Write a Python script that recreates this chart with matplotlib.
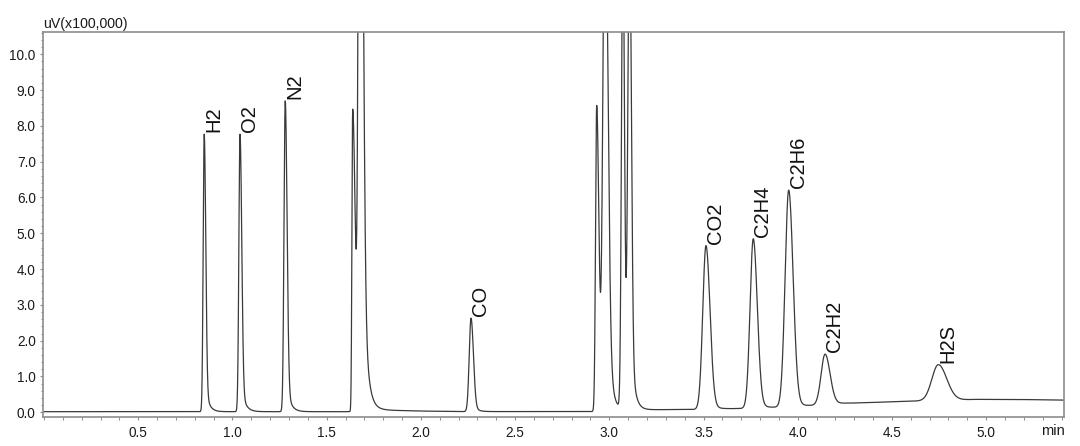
import numpy as np
import matplotlib
matplotlib.use("Agg")
import matplotlib.pyplot as plt
from matplotlib.ticker import MultipleLocator, FixedLocator, FormatStrFormatter

# ---- data (time in min, signal in uV x100,000) ----
# peak parameters: retention time, height above baseline, left/right widths, tail
peak_time   = [0.850, 1.040, 1.280, 1.638, 1.6765, 2.266, 2.933, 2.977, 3.072, 3.1075,
               3.513, 3.764, 3.952, 4.145, 4.746]
peak_height = [7.75, 7.75, 8.68, 8.45, 25.0, 2.61, 8.54, 15.0, 13.5, 13.5,
               4.57, 4.73, 6.05, 1.41, 1.00]
peak_sigL   = [0.0055, 0.006, 0.0065, 0.004, 0.008, 0.0095, 0.006, 0.011, 0.0072, 0.0094,
               0.017, 0.017, 0.019, 0.021, 0.034]
peak_sigR   = [0.008, 0.009, 0.0095, 0.0138, 0.0134, 0.0125, 0.0116, 0.0145, 0.0084, 0.0094,
               0.021, 0.021, 0.023, 0.026, 0.044]
tail_amp    = [1.0, 1.0, 1.1, 0.0, 9.8, 0.3, 0.0, 5.0, 0.0, 3.0,
               0.3, 0.3, 0.4, 0.1, 0.05]
tail_tau    = [0.018, 0.02, 0.02, 0.01, 0.02, 0.02, 0.01, 0.02, 0.01, 0.018,
               0.03, 0.03, 0.03, 0.04, 0.05]

# baseline read at a few times
base_time  = [0.0, 1.66, 1.70, 1.75, 1.85, 2.0, 2.2, 2.9, 3.15, 3.45, 3.65, 3.85,
              4.05, 4.25, 4.6, 4.95, 5.15, 5.42]
base_value = [0.017, 0.017, 0.10, 0.08, 0.055, 0.035, 0.02, 0.02, 0.07, 0.08, 0.10, 0.13,
              0.18, 0.25, 0.31, 0.36, 0.36, 0.34]

# labelled peaks
label_names = ["H2", "O2", "N2", "CO", "CO2", "C2H4", "C2H6", "C2H2", "H2S"]
label_times = [0.850, 1.040, 1.280, 2.266, 3.513, 3.764, 3.952, 4.145, 4.746]

x_ticks = [0.5, 1.0, 1.5, 2.0, 2.5, 3.0, 3.5, 4.0, 4.5, 5.0]
y_ticks = [0.0, 1.0, 2.0, 3.0, 4.0, 5.0, 6.0, 7.0, 8.0, 9.0, 10.0]

# ---- build trace ----
t = np.linspace(0.0, 5.42, 24000)
sig = np.interp(t, base_time, base_value)
for c, h, sl, sr, ta, tau in zip(peak_time, peak_height, peak_sigL, peak_sigR, tail_amp, tail_tau):
    d = t - c
    s = np.where(d < 0, sl, sr)
    sig = sig + h * np.exp(-d**2 / (2 * s**2))
    dp = np.clip(d, 0, None)
    sig = sig + np.where(d > 0, ta * np.exp(-dp / tau) * (1 - np.exp(-dp**2 / (2 * sr**2))), 0.0)

plt.rcParams['font.family'] = ['Liberation Sans', 'DejaVu Sans']

fig = plt.figure(figsize=(10.8, 4.46), dpi=100)
ax = fig.add_axes([0.0401, 0.0657, 0.9454, 0.8632])
ax.plot(t, sig, color='#3a3a3a', lw=0.9, solid_joinstyle='round')

ax.set_xlim(-0.004, 5.415)
ax.set_ylim(-0.123, 10.63)

ax.xaxis.set_major_locator(FixedLocator(x_ticks))
ax.xaxis.set_minor_locator(MultipleLocator(0.1))
ax.xaxis.set_major_formatter(FormatStrFormatter('%.1f'))
ax.yaxis.set_major_locator(FixedLocator(y_ticks))
ax.yaxis.set_minor_locator(MultipleLocator(0.2))
ax.yaxis.set_major_formatter(FormatStrFormatter('%.1f'))

for sp in ax.spines.values():
    sp.set_color('#8c8c8c')
    sp.set_linewidth(1.2)
ax.tick_params(which='both', direction='out', color='#8c8c8c', labelcolor='#1a1a1a',
               labelsize=9.8)
ax.tick_params(which='major', length=2.5, width=0.8)
ax.tick_params(which='minor', length=1.8, width=0.7)
ax.tick_params(axis='x', which='major', pad=4)
ax.tick_params(axis='y', which='major', pad=3)

ax.text(0.0, 1.003, 'uV(x100,000)', transform=ax.transAxes, ha='left', va='bottom',
        fontsize=10.2, color='#1a1a1a')
ax.text(1.0, -0.018, 'min', transform=ax.transAxes, ha='right', va='top',
        fontsize=10.5, color='#1a1a1a')

for name, lt in zip(label_names, label_times):
    m = (t > lt - 0.02) & (t < lt + 0.02)
    i = np.argmax(sig[m])
    xt = t[m][i]
    yt = sig[m][i]
    ax.annotate(name, (xt, yt), xytext=(0, 1.5), textcoords='offset points',
                rotation=90, ha='left', va='bottom', fontsize=14.5, color='#111111')

fig.savefig('out.png', dpi=100)
